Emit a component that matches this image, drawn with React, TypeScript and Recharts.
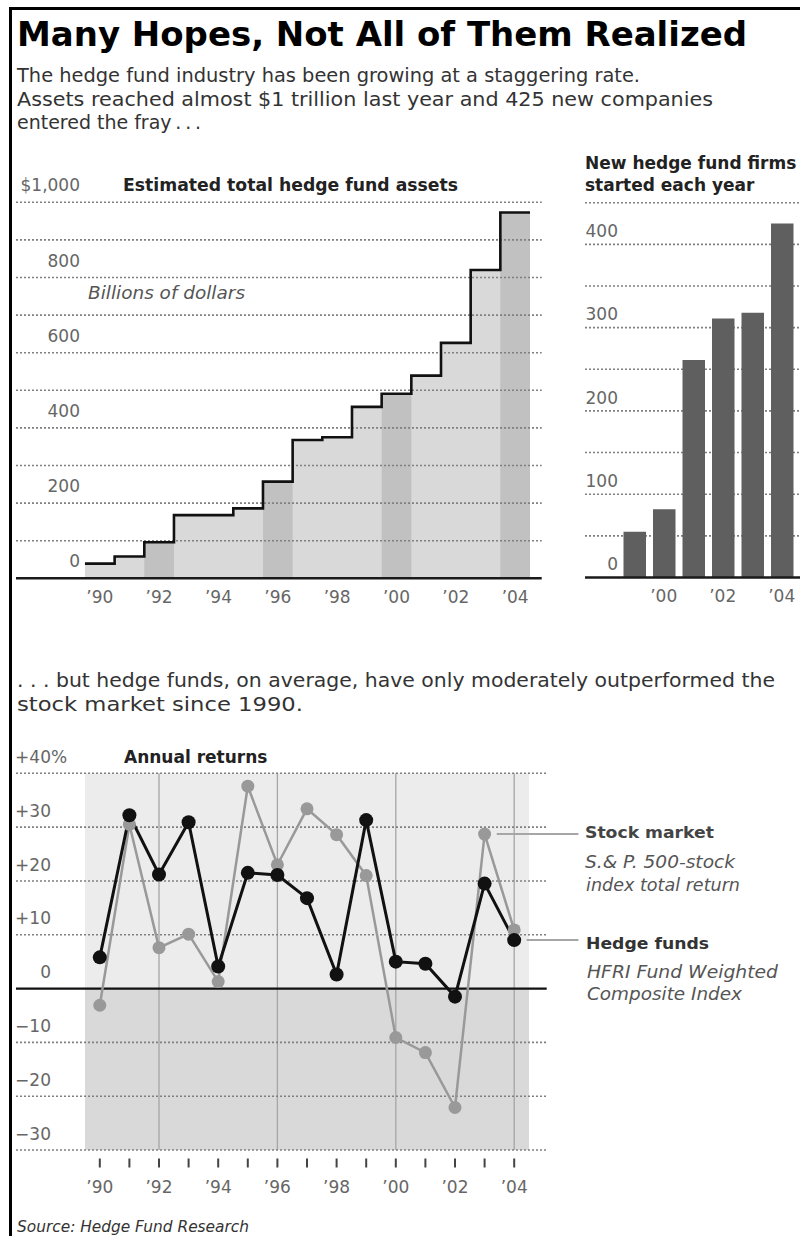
import React from "react";
import {
  ComposedChart,
  Area,
  Line,
  XAxis,
  YAxis,
  ReferenceLine,
  ReferenceArea,
  BarChart,
  Bar,
} from "recharts";

const FONT = "'DejaVu Sans', 'Liberation Sans', sans-serif";

// ---------- data: estimated total hedge fund assets (billions) ----------
const assetYears = [1990, 1991, 1992, 1993, 1994, 1995, 1996, 1997, 1998, 1999, 2000, 2001, 2002, 2003, 2004];
const assetValues = [39, 58, 96, 168, 168, 186, 257, 368, 375, 456, 491, 539, 626, 820, 973];
const electionYears = [1992, 1996, 2000, 2004];
const assetTickYears = [1990, 1992, 1994, 1996, 1998, 2000, 2002, 2004];
const assetGridValues = [100, 200, 300, 400, 500, 600, 700, 800, 900, 1000];
const assetLabelValues = [0, 200, 400, 600, 800, 1000];

// ---------- data: new hedge fund firms per year ----------
const firmYears = [1999, 2000, 2001, 2002, 2003, 2004];
const firmCounts = [55, 82, 261, 311, 318, 425];
const firmGridValues = [50, 100, 150, 200, 250, 300, 350, 400, 450];
const firmLabelValues = [0, 100, 200, 300, 400];

// ---------- data: annual returns (%) ----------
const returnYears = [1990, 1991, 1992, 1993, 1994, 1995, 1996, 1997, 1998, 1999, 2000, 2001, 2002, 2003, 2004];
const hedgeReturns = [5.8, 32.2, 21.2, 30.9, 4.1, 21.5, 21.1, 16.8, 2.6, 31.3, 5.0, 4.6, -1.5, 19.5, 9.0];
const stockReturns = [-3.1, 30.5, 7.6, 10.1, 1.3, 37.6, 23.0, 33.4, 28.6, 21.0, -9.1, -11.9, -22.1, 28.7, 10.9];
const returnGridValues = [40, 30, 20, 10, -10, -20, -30];
const returnLabelValues = [40, 30, 20, 10, 0, -10, -20, -30];

// ---------- derived tables ----------
const lastIdx = assetYears.length - 1;
const assetSteps = [
  ...assetYears.map((yr, i) => ({
    x: yr - 0.5,
    total: assetValues[i],
    election: electionYears.includes(yr) ? assetValues[i] : 0,
  })),
  {
    x: assetYears[lastIdx] + 0.5,
    total: assetValues[lastIdx],
    election: electionYears.includes(assetYears[lastIdx]) ? assetValues[lastIdx] : 0,
  },
];
const firmData = firmYears.map((yr, i) => ({ year: yr, count: firmCounts[i] }));
const returnData = returnYears.map((yr, i) => ({ year: yr, hedge: hedgeReturns[i], stock: stockReturns[i] }));

const fmtYear = (y: number) => "\u2019" + String(y).slice(2);
const LABEL_GRAY = "#666";
const GRID = { stroke: "#808080", strokeWidth: 1.6, strokeDasharray: "2 2" };

const YearTick = (props: any) => {
  const { x, y, payload, offset } = props;
  return (
    <text x={x} y={y + offset} dy="0.36em" textAnchor="middle" fontSize={17} fill={LABEL_GRAY} fontFamily={FONT}>
      {fmtYear(payload.value)}
    </text>
  );
};

const EvenYearTick = (props: any) => {
  const { payload } = props;
  if (payload.value % 2 !== 0) return <g />;
  return <YearTick {...props} />;
};

const AssetYTick = (props: any) => {
  const { x, y, payload } = props;
  const label = payload.value === 1000 ? "$1,000" : String(payload.value);
  return (
    <text x={x + 64} y={y - 17} dy="0.36em" textAnchor="end" fontSize={17} fill={LABEL_GRAY} fontFamily={FONT}>
      {label}
    </text>
  );
};

const FirmYTick = (props: any) => {
  const { x, y, payload } = props;
  return (
    <text x={x + 33} y={y - 13.5} dy="0.36em" textAnchor="end" fontSize={17} fill={LABEL_GRAY} fontFamily={FONT}>
      {String(payload.value)}
    </text>
  );
};

const ReturnYTick = (props: any) => {
  const { x, y, payload } = props;
  const v = payload.value as number;
  const label = v > 0 ? "+" + v : v < 0 ? "\u2212" + Math.abs(v) : "0";
  return (
    <g>
      <text x={x + 35} y={y - 16.5} dy="0.36em" textAnchor="end" fontSize={17} fill={LABEL_GRAY} fontFamily={FONT}>
        {label}
      </text>
      {v === 40 ? (
        <text x={x + 35} y={y - 16.5} dy="0.36em" textAnchor="start" fontSize={17} fill={LABEL_GRAY} fontFamily={FONT}>
          %
        </text>
      ) : null}
    </g>
  );
};

const ReturnXTick = (props: any) => {
  const { x, y, payload } = props;
  return (
    <g>
      <line x1={x} x2={x} y1={y + 8.5} y2={y + 17.5} stroke="#444" strokeWidth={2} />
      {payload.value % 2 === 0 ? (
        <text x={x} y={y + 36.7} dy="0.36em" textAnchor="middle" fontSize={17} fill={LABEL_GRAY} fontFamily={FONT}>
          {fmtYear(payload.value)}
        </text>
      ) : null}
    </g>
  );
};

const T = (p: any) => {
  const { children, ...rest } = p;
  return (
    <text fontFamily={FONT} {...rest}>
      {children}
    </text>
  );
};

export default function App() {
  return (
    <div
      style={{
        position: "absolute",
        left: 0,
        top: 0,
        width: 800,
        height: 1236,
        overflow: "hidden",
        background: "#fff",
      }}
    >
      {/* frame */}
      <div style={{ position: "absolute", left: 9, top: 7, width: 800, height: 2.5, background: "#000" }} />
      <div style={{ position: "absolute", left: 9, top: 7, width: 2.5, height: 1240, background: "#000" }} />

      {/* top-left: total assets step chart */}
      <div style={{ position: "absolute", left: 0, top: 0 }}>
        <ComposedChart
          width={560}
          height={620}
          data={assetSteps}
          margin={{ top: 202.3, right: 18.3, bottom: 11.7, left: 15 }}
        >
          <XAxis
            dataKey="x"
            type="number"
            domain={[1987.176, 2004.894]}
            allowDataOverflow
            ticks={assetTickYears}
            interval={0}
            tickLine={false}
            tickSize={0}
            tickMargin={0}
            height={30}
            axisLine={{ stroke: "#1a1a1a", strokeWidth: 2.6 }}
            tick={(p: any) => <YearTick {...p} offset={18.4} />}
          />
          <YAxis
            type="number"
            domain={[0, 1000]}
            width={1}
            ticks={assetLabelValues}
            interval={0}
            axisLine={false}
            tickLine={false}
            tickSize={0}
            tickMargin={0}
            tick={(p: any) => <AssetYTick {...p} />}
          />
          <Area
            type="stepAfter"
            dataKey="total"
            fill="#d9d9d9"
            fillOpacity={1}
            stroke="none"
            dot={false}
            activeDot={false}
            isAnimationActive={false}
            zIndex={100}
          />
          <Area
            type="stepAfter"
            dataKey="election"
            fill="#c1c1c1"
            fillOpacity={1}
            stroke="none"
            dot={false}
            activeDot={false}
            isAnimationActive={false}
            zIndex={110}
          />
          {assetGridValues.map((v) => (
            <ReferenceLine key={v} y={v} {...GRID} zIndex={150} />
          ))}
          <Line
            type="stepAfter"
            dataKey="total"
            stroke="#111"
            strokeWidth={2.6}
            dot={false}
            activeDot={false}
            isAnimationActive={false}
            zIndex={400}
          />
        </ComposedChart>
      </div>

      {/* top-right: new firms bar chart */}
      <div style={{ position: "absolute", left: 0, top: 0 }}>
        <BarChart
          width={810}
          height={620}
          data={firmData}
          margin={{ top: 202.7, right: 8.5, bottom: 12.5, left: 584 }}
          barCategoryGap={0}
        >
          <XAxis
            dataKey="year"
            type="category"
            padding={{ left: 34.5, right: 5 }}
            interval={0}
            tickLine={false}
            tickSize={0}
            tickMargin={0}
            height={30}
            axisLine={{ stroke: "#1a1a1a", strokeWidth: 2.6 }}
            tick={(p: any) => <EvenYearTick {...p} offset={18} />}
          />
          <YAxis
            type="number"
            domain={[0, 450]}
            width={1}
            ticks={firmLabelValues}
            interval={0}
            axisLine={false}
            tickLine={false}
            tickSize={0}
            tickMargin={0}
            tick={(p: any) => <FirmYTick {...p} />}
          />
          {firmGridValues.map((v) => (
            <ReferenceLine key={v} y={v} {...GRID} zIndex={50} />
          ))}
          <Bar dataKey="count" fill="#5f5f5f" barSize={22.5} isAnimationActive={false} zIndex={300} />
        </BarChart>
      </div>

      {/* bottom: annual returns */}
      <div style={{ position: "absolute", left: 0, top: 700 }}>
        <ComposedChart
          width={600}
          height={536}
          data={returnData}
          margin={{ top: 73.3, right: 53.3, bottom: 56, left: 15 }}
        >
          <XAxis
            dataKey="year"
            type="number"
            domain={[1987.169, 2005.098]}
            allowDataOverflow
            ticks={returnYears}
            interval={0}
            axisLine={false}
            tickLine={false}
            tickSize={0}
            tickMargin={0}
            height={30}
            tick={(p: any) => <ReturnXTick {...p} />}
          />
          <YAxis
            type="number"
            domain={[-30, 40]}
            width={1}
            ticks={returnLabelValues}
            interval={0}
            axisLine={false}
            tickLine={false}
            tickSize={0}
            tickMargin={0}
            tick={(p: any) => <ReturnYTick {...p} />}
          />
          <ReferenceArea x1={1989.5} x2={2004.5} y1={0} y2={40} fill="#ececec" fillOpacity={1} stroke="none" zIndex={-60} />
          <ReferenceArea x1={1989.5} x2={2004.5} y1={-30} y2={0} fill="#d9d9d9" fillOpacity={1} stroke="none" zIndex={-60} />
          {electionYears.map((yr) => (
            <ReferenceLine key={yr} x={yr} stroke="#a6a6a6" strokeWidth={1.3} zIndex={-40} />
          ))}
          {returnGridValues.map((v) => (
            <ReferenceLine key={v} y={v} {...GRID} zIndex={-20} />
          ))}
          <ReferenceLine y={0} stroke="#111" strokeWidth={2.2} zIndex={-10} />
          <ReferenceLine
            segment={[
              { x: 2003.41, y: stockReturns[13] },
              { x: 2006.17, y: stockReturns[13] },
            ]}
            ifOverflow="visible"
            stroke="#a6a6a6"
            strokeWidth={2}
            zIndex={-5}
          />
          <ReferenceLine
            segment={[
              { x: 2004.42, y: hedgeReturns[14] },
              { x: 2006.17, y: hedgeReturns[14] },
            ]}
            ifOverflow="visible"
            stroke="#a6a6a6"
            strokeWidth={2}
            zIndex={-5}
          />
          <Line
            type="linear"
            dataKey="stock"
            stroke="#999"
            strokeWidth={2.5}
            dot={{ r: 6.5, fill: "#999", stroke: "none", strokeWidth: 0 }}
            activeDot={false}
            isAnimationActive={false}
            zIndex={400}
          />
          <Line
            type="linear"
            dataKey="hedge"
            stroke="#111"
            strokeWidth={3}
            dot={{ r: 7, fill: "#111", stroke: "none", strokeWidth: 0 }}
            activeDot={false}
            isAnimationActive={false}
            zIndex={450}
          />
        </ComposedChart>
      </div>

      {/* text */}
      <svg
        width={800}
        height={1236}
        style={{ position: "absolute", left: 0, top: 0, pointerEvents: "none" }}
      >
        <T x={17} y={46} fontSize={34} fontWeight={700} fill="#000" textLength={730} lengthAdjust="spacingAndGlyphs">
          Many Hopes, Not All of Them Realized
        </T>
        <T x={17} y={82} fontSize={19.5} fill="#333" textLength={623} lengthAdjust="spacingAndGlyphs">
          The hedge fund industry has been growing at a staggering rate.
        </T>
        <T x={17} y={106} fontSize={19.5} fill="#333" textLength={696} lengthAdjust="spacingAndGlyphs">
          Assets reached almost $1 trillion last year and 425 new companies
        </T>
        <T x={17} y={129} fontSize={19.5} fill="#333" textLength={184} lengthAdjust="spacingAndGlyphs">
          {"entered the fray\u2009.\u2009.\u2009."}
        </T>

        <T x={123} y={191} fontSize={17} fontWeight={700} fill="#222" textLength={335} lengthAdjust="spacingAndGlyphs">
          Estimated total hedge fund assets
        </T>
        <T x={88} y={299} fontSize={17} fontStyle="italic" fill="#555" textLength={157} lengthAdjust="spacingAndGlyphs">
          Billions of dollars
        </T>

        <T x={585} y={169} fontSize={17} fontWeight={700} fill="#222">
          New hedge fund firms
        </T>
        <T x={585} y={191} fontSize={17} fontWeight={700} fill="#222">
          started each year
        </T>

        <T x={17} y={687} fontSize={19.5} fill="#333" textLength={758} lengthAdjust="spacingAndGlyphs">
          . . . but hedge funds, on average, have only moderately outperformed the
        </T>
        <T x={17} y={711} fontSize={19.5} fill="#333" textLength={286} lengthAdjust="spacingAndGlyphs">
          stock market since 1990.
        </T>

        <T x={124} y={763} fontSize={17} fontWeight={700} fill="#222">
          Annual returns
        </T>

        <T x={585} y={838} fontSize={16} fontWeight={700} fill="#444" textLength={129} lengthAdjust="spacingAndGlyphs">
          Stock market
        </T>
        <T x={585} y={868} fontSize={17} fontStyle="italic" fill="#555" textLength={150} lengthAdjust="spacingAndGlyphs">
          S.&amp; P. 500-stock
        </T>
        <T x={586} y={891} fontSize={17} fontStyle="italic" fill="#555" textLength={154} lengthAdjust="spacingAndGlyphs">
          index total return
        </T>
        <T x={586} y={949} fontSize={16} fontWeight={700} fill="#333" textLength={123} lengthAdjust="spacingAndGlyphs">
          Hedge funds
        </T>
        <T x={587} y={978} fontSize={17} fontStyle="italic" fill="#555" textLength={191} lengthAdjust="spacingAndGlyphs">
          HFRI Fund Weighted
        </T>
        <T x={587} y={1000} fontSize={17} fontStyle="italic" fill="#555" textLength={155} lengthAdjust="spacingAndGlyphs">
          Composite Index
        </T>

        <T x={17} y={1232} fontSize={16} fontStyle="italic" fill="#333" textLength={232} lengthAdjust="spacingAndGlyphs">
          Source: Hedge Fund Research
        </T>
      </svg>
    </div>
  );
}
